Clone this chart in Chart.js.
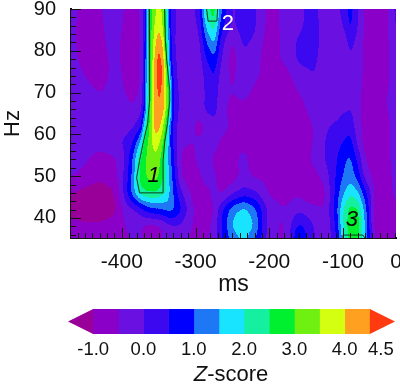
<!DOCTYPE html>
<html><head><meta charset="utf-8">
<style>html,body{margin:0;padding:0;background:#fff;width:400px;height:384px;overflow:hidden}canvas{position:absolute;left:0;display:block}</style>
<script src="https://cdn.jsdelivr.net/npm/chart.js@4/dist/chart.umd.min.js"></script>
</head><body>
<canvas id="main" width="400" height="298" style="top:0"></canvas>
<canvas id="bar" width="400" height="94" style="top:290px"></canvas>
<script>
const msNodes=[-470,-450,-430,-410,-395,-385,-375,-370,-365,-360,-355,-350,-345,-340,-335,-330,-320,-305,-295,-285,-275,-265,-250,-235,-220,-200,-180,-160,-140,-125,-110,-100,-90,-80,-70,-55,-40,-28];
const hzNodes=[90,86,82,78,74,70,66,62,58,54,50,46,42,38,35];
const z90=[-.3,-.7,-.6,.1,-.6,-.7,-.5,.2,1.7,3,3.4,3.6,3.4,2.3,.7,.1,-.2,-.2,.3,2.4,2.9,1,-.1,.3,.1,-.7,-.4,-.1,.2,-.3,-.1,.1,.7,.1,-.6,-.7,-.6,.2];
const z86=[-.3,-.8,-.7,0,-.7,-.8,-.5,.2,1.9,3,3.6,3.9,3.6,2.5,.8,.1,-.2,-.2,.1,1.7,2.3,.7,-.1,.3,.1,-.7,-.4,-.1,.2,-.2,-.2,0,.6,0,-.6,-.8,-.6,.1];
const z82=[-.3,-.8,-.7,-.2,-.8,-.9,-.5,.2,1.9,3,3.9,4.3,4,2.7,.9,.1,-.3,-.3,-.1,1,1.6,.2,-.6,.1,-.1,-.8,-.4,.1,.2,-.2,-.5,-.4,.2,-.2,-.6,-.8,-.6,0];
const z78=[-.3,-.7,-.8,-.3,-.7,-.9,-.5,.3,2,3.2,4.2,4.7,4.4,3.2,1.1,.2,-.3,-.4,-.2,.5,.9,0,-.7,-.1,-.3,-.8,-.4,.1,.1,-.2,-.5,-.5,-.1,-.3,-.6,-.8,-.6,-.1];
const z74=[-.2,-.5,-.8,-.3,-.6,-.8,-.5,.3,2,3.2,4.2,4.8,4.5,3.5,1.6,.3,-.3,-.4,-.3,.2,.5,-.2,-.6,-.2,-.4,-.7,-.8,-.2,0,-.2,-.4,-.4,-.2,-.3,-.6,-.8,-.6,-.2];
const z70=[-.2,-.3,-.5,-.3,-.5,-.7,-.4,.3,2.1,3.2,4.2,4.6,4.4,3.6,2.4,.5,-.2,-.4,-.3,.1,.3,-.3,-.5,-.3,-.6,-.8,-.9,-.5,-.2,-.3,-.5,-.4,-.2,-.3,-.7,-.8,-.5,-.3];
const z66=[-.2,-.3,-.3,-.3,-.4,-.4,-.2,.6,2.2,3.3,4.2,4.4,4.3,3.5,2.4,.5,-.2,-.3,-.2,.1,.2,-.3,-.7,-.7,-.9,-.9,-.9,-.7,-.3,-.1,-.3,-.1,0,-.3,-.7,-.8,-.5,-.3];
const z62=[-.3,-.3,-.3,-.2,-.2,-.1,.3,1.6,2.6,3.5,4.2,4.2,3.7,2.8,1.2,.3,-.3,-.4,-.7,-.4,-.2,-.3,-.6,-.7,-.8,-.9,-.9,-.8,-.5,-.1,.1,.3,.3,-.3,-.7,-.8,-.6,-.3];
const z58=[-.3,-.3,-.2,-.1,.1,.5,1.6,2.6,3,3.4,3.8,3.6,3.1,2.3,1.1,.4,-.4,-.5,-.4,-.3,-.3,-.6,-.7,-.7,-.8,-.8,-.9,-.8,-.5,0,.3,.5,.7,-.1,-.7,-.8,-.6,-.3];
const z54=[-.3,-.4,-.8,-.6,0,1.1,2.5,2.9,3.1,3.3,3.3,3.2,2.7,1.9,1.2,.6,-.6,-.7,-.3,-.3,-.6,-.7,-.7,-.3,-.8,-.8,-.9,-.8,-.4,0,.4,.9,1.1,.4,-.5,-.8,-.6,-.3];
const z50=[-.4,-.7,-.9,-.7,.2,1.2,2.7,2.9,3.1,3.2,3.2,3,2.6,2.1,1.4,.8,-.5,-.9,-.6,-.2,-.4,-.8,-.8,-.3,-.6,-.6,-.7,-.6,-.7,-.3,.5,1,1.3,.8,-.2,-.8,-.7,-.3];
const z46=[-1,-1.15,-1.25,-1.05,.3,1.3,2.3,2.4,2.5,2.5,2.5,2.4,2.2,2,1.5,1,.1,-.6,-.8,-.7,-.3,-.6,-.1,.2,.1,-.6,-.7,-.6,-1.05,-.6,.6,1.4,1.9,1.6,.7,-.7,-.7,-.4];
const z42=[-1.2,-1.3,-1.3,-1.1,-.3,-.1,.2,.5,.7,.8,.9,.9,1,1.1,1.2,1.1,.6,-.4,-.7,-.8,-.5,.4,1.3,1.7,1.2,-.2,-.5,-.1,-.3,-.5,.7,2,2.7,2.6,1.3,-1.05,-.8,-.5];
const z38=[-.8,-.9,-.9,-.8,-.5,-.5,-.4,-.6,-.7,-.7,-.7,-.6,-.5,-.3,-.2,-.1,-.1,-.5,-.7,-.7,-.3,.5,1.6,2,1.5,-.3,-.6,.7,0,-.5,.5,2,2.9,2.8,1.5,-1.05,-.8,-.5];
const z35=[-.5,-.6,-.7,-.6,-.5,-.5,-.4,-.6,-.7,-.7,-.7,-.6,-.5,-.3,-.3,-.2,-.3,-.6,-.7,-.6,-.2,.4,1.1,1.5,1,-.3,-.6,1.1,.1,-.5,.3,1.6,2.7,2.8,1.4,-.6,-.7,-.4];
const zRows=[z90,z86,z82,z78,z74,z70,z66,z62,z58,z54,z50,z46,z42,z38,z35];

const levels=[-1,-.5,0,.5,1,1.5,2,2.5,3,3.5,4,4.5];
const bandColors=['#990099','#8a00c8','#6a10e0','#3c08f0','#0000ff','#1e78f5','#18e4ff','#14f0a0','#00f030','#70f010','#d4ff10','#ffa020','#ff3a10'];
const xTicks=[-400,-300,-200,-100,-28];
const xTickLabels=['-400','-300','-200','-100','0'];
const yTicks=[40,50,60,70,80,90];
const contour1=[[-363,90],[-362,82.5],[-363,77.7],[-363,70.5],[-362,68],[-365,62.6],[-371,58],[-376,53.7],[-380,49.6],[-376,46],[-344,46],[-344,49.6],[-344,53.7],[-342,58],[-338,62.6],[-335,68],[-335,70.5],[-339,77.7],[-341,82.5],[-342,90]];
const contour2=[[-285,90],[-283,87.1],[-271,87.1],[-270,90]];
const contour3=[[-100,35.2],[-100,35.9],[-73,35.9],[-70,35.2]];
const regionLabels=[{t:'1',ms:-357,hz:50,c:'#000',i:true},{t:'2',ms:-256,hz:86.5,c:'#fff',i:false},{t:'3',ms:-88,hz:39.5,c:'#000',i:true}];
const barLabels=[['-1.0',-1],['0.0',0],['1.0',1],['2.0',2],['3.0',3],['4.0',4],['4.5',4.72]];
const FONT='"Liberation Sans",Arial,sans-serif';

function hexRGB(h){return [1,3,5].map(i=>parseInt(h.slice(i,i+2),16));}
const rgb=bandColors.map(hexRGB);
function band(z){let k=0;while(k<levels.length&&z>=levels[k])k++;return k;}
function bracket(nodes,v){
  const asc=nodes[1]>nodes[0];
  for(let i=0;i<nodes.length-1;i++){
    const a=nodes[i],b=nodes[i+1];
    if(asc?(v<=b):(v>=b)){return [i,Math.min(1,Math.max(0,(v-a)/(b-a)))];}
  }
  return [nodes.length-2,1];
}
const fieldPlugin={id:'field',beforeDatasetsDraw(c){
  const {left,top,right,bottom}=c.chartArea,W=Math.round(right-left),H=Math.round(bottom-top);
  const xs=c.scales.x,ys=c.scales.y;
  const cx=[],cy=[];
  for(let i=0;i<W;i++)cx.push(bracket(msNodes,xs.getValueForPixel(left+i+.5)));
  for(let j=0;j<H;j++)cy.push(bracket(hzNodes,ys.getValueForPixel(top+j+.5)));
  const f=new Float32Array(W*H);
  for(let j=0;j<H;j++){const [r,v]=cy[j];for(let i=0;i<W;i++){const [q,u]=cx[i];
    f[j*W+i]=(zRows[r][q]*(1-u)+zRows[r][q+1]*u)*(1-v)+(zRows[r+1][q]*(1-u)+zRows[r+1][q+1]*u)*v;}}
  const g=new Float32Array(W*H),h=new Float32Array(W*H),R=6;
  for(let i=0;i<W;i++)for(let j=0;j<H;j++){let s=0,n=0;for(let d=-R;d<=R;d++){const k=j+d;if(k>=0&&k<H){s+=f[k*W+i];n++;}}g[j*W+i]=s/n;}
  for(let i=0;i<W;i++){const q=cx[i][0];const sp=Math.abs(xs.getPixelForValue(msNodes[q+1])-xs.getPixelForValue(msNodes[q]));const Rh=Math.floor(sp/3.2);
    for(let j=0;j<H;j++){let s=0,n=0;for(let d=-Rh;d<=Rh;d++){const k=i+d;if(k>=0&&k<W){s+=g[j*W+k];n++;}}h[j*W+i]=s/n;}}
  const off=document.createElement('canvas');off.width=W;off.height=H;
  const oc=off.getContext('2d'),im=oc.createImageData(W,H);
  for(let p=0;p<W*H;p++){const col=rgb[band(h[p])];im.data[4*p]=col[0];im.data[4*p+1]=col[1];im.data[4*p+2]=col[2];im.data[4*p+3]=255;}
  oc.putImageData(im,0,0);
  const ctx=c.ctx;ctx.save();ctx.beginPath();ctx.rect(left,top,W,H);ctx.clip();
  ctx.drawImage(off,left,top);ctx.filter='blur(0.6px)';ctx.drawImage(off,left,top);ctx.restore();
},afterDatasetsDraw(c){
  const ctx=c.ctx,{left,bottom}=c.chartArea,xs=c.scales.x,ys=c.scales.y;
  ctx.save();ctx.strokeStyle='#111';ctx.lineWidth=1;ctx.beginPath();
  for(let v=-460;v<=-30;v+=10){const p=Math.round(xs.getPixelForValue(v))+.5,L=v%100===0?10:5;ctx.moveTo(p,bottom);ctx.lineTo(p,bottom-L);}
  for(let v=36;v<=90;v+=2){const p=Math.round(ys.getPixelForValue(v))+.5,L=v%10===0?10:5;ctx.moveTo(left,p);ctx.lineTo(left+L,p);}
  ctx.stroke();
  ctx.textAlign='center';ctx.textBaseline='middle';
  for(const r of regionLabels){ctx.font=(r.i?'italic ':'')+'22px '+FONT;ctx.fillStyle=r.c;ctx.fillText(r.t,xs.getPixelForValue(r.ms),ys.getPixelForValue(r.hz));}
  ctx.restore();
}};
function cline(pts){return {type:'scatter',showLine:true,data:pts.map(p=>({x:p[0],y:p[1]})),borderColor:'#0d3d1a',borderWidth:1,pointRadius:0,fill:false,tension:0};}
const gridPts=[];zRows.forEach((row,r)=>row.forEach((z,q)=>gridPts.push({x:msNodes[q],y:hzNodes[r],z})));
new Chart(document.getElementById('main'),{
  type:'scatter',
  data:{datasets:[{label:'Z-score',data:gridPts,pointRadius:0,showLine:false},cline(contour1),cline(contour2),cline(contour3)]},
  plugins:[fieldPlugin],
  options:{responsive:false,animation:false,events:[],
    layout:{padding:{top:9,right:4,left:0,bottom:0}},
    plugins:{legend:{display:false},tooltip:{enabled:false}},
    scales:{
      x:{type:'linear',min:-469,max:-28,
        grid:{display:false,drawTicks:false},border:{display:true,color:'#111',width:2},
        afterBuildTicks(s){s.ticks=xTicks.map(v=>({value:v}));},
        afterFit(s){s.height=60;s.paddingRight=0;s.paddingLeft=0;},
        ticks:{autoSkip:false,maxRotation:0,padding:12,color:'#111',font:{family:FONT,size:21},callback(v){return xTickLabels[xTicks.indexOf(v)];}},
        title:{display:true,text:'ms',color:'#111',font:{family:FONT,size:23},padding:0}},
      y:{type:'linear',min:35.2,max:90,
        grid:{display:false,drawTicks:false},border:{display:true,color:'#111',width:2},
        afterBuildTicks(s){s.ticks=yTicks.map(v=>({value:v}));},
        afterFit(s){s.width=71;s.paddingTop=0;s.paddingBottom=0;},
        ticks:{autoSkip:false,padding:15,color:'#111',font:{family:FONT,size:20}},
        title:{display:true,text:'Hz',color:'#111',font:{family:FONT,size:22},padding:0}}
    }}
});

const segLo=levels.slice(0,-1);
const barPlugin={id:'barDeco',afterDatasetsDraw(c){
  const ctx=c.ctx,x=c.scales.x,{top,bottom}=c.chartArea,mid=(top+bottom)/2;
  ctx.save();
  ctx.fillStyle=bandColors[0];ctx.beginPath();ctx.moveTo(x.getPixelForValue(-1),top);ctx.lineTo(x.getPixelForValue(-1.5),mid);ctx.lineTo(x.getPixelForValue(-1),bottom);ctx.closePath();ctx.fill();
  ctx.fillStyle=bandColors[12];ctx.beginPath();ctx.moveTo(x.getPixelForValue(4.5),top);ctx.lineTo(x.getPixelForValue(5),mid);ctx.lineTo(x.getPixelForValue(4.5),bottom);ctx.closePath();ctx.fill();
  ctx.fillStyle='#111';ctx.textAlign='center';ctx.textBaseline='middle';ctx.font='18.5px '+FONT;
  for(const l of barLabels)ctx.fillText(l[0],x.getPixelForValue(l[1]),60);
  const a='Z',b='-score';ctx.font='italic 22px '+FONT;const wa=ctx.measureText(a).width;ctx.font='22px '+FONT;const wb=ctx.measureText(b).width;
  const sx=231-(wa+wb)/2;ctx.textAlign='left';ctx.font='italic 22px '+FONT;ctx.fillText(a,sx,85);ctx.font='22px '+FONT;ctx.fillText(b,sx+wa,85);
  ctx.restore();
}};
new Chart(document.getElementById('bar'),{
  type:'bar',
  data:{labels:['z'],datasets:segLo.map((lo,i)=>({data:[[lo,levels[i+1]]],backgroundColor:bandColors[i+1],borderWidth:0,barPercentage:1,categoryPercentage:1,grouped:false}))},
  plugins:[barPlugin],
  options:{indexAxis:'y',responsive:false,animation:false,events:[],
    layout:{padding:{left:68,right:5,top:19,bottom:50}},
    plugins:{legend:{display:false},tooltip:{enabled:false}},
    scales:{x:{type:'linear',min:-1.5,max:5,display:false},y:{display:false}}}
});
</script>
</body></html>
